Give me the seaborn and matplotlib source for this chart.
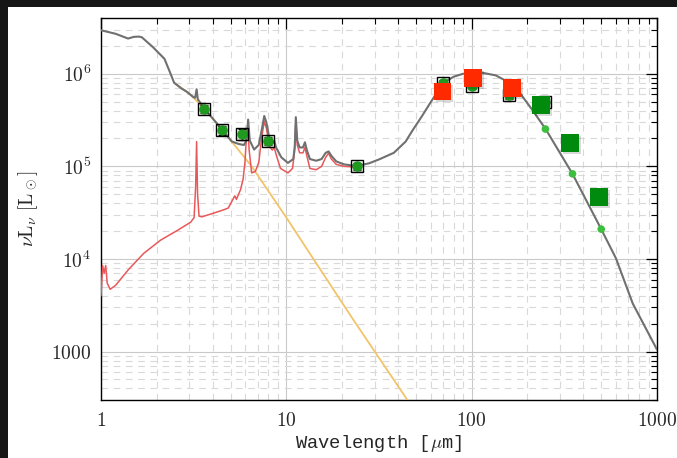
import matplotlib
matplotlib.use("Agg")
import matplotlib.pyplot as plt
import matplotlib.patheffects as pe
from matplotlib.patches import Rectangle
from matplotlib.ticker import LogLocator, NullFormatter
import pandas as pd
import seaborn as sns

# Total SED model (star + dust)
model_wave = [1.0, 1.2, 1.4, 1.5, 1.6, 1.66, 1.9, 2.2, 2.35, 2.48, 2.7, 2.9, 3.15, 3.22,
              3.28, 3.33, 3.5, 3.6, 4.0, 4.5, 5.07, 5.5, 5.9, 6.1, 6.22, 6.35, 6.7, 7.1,
              7.4, 7.6, 7.8, 8.1, 8.4, 8.6, 8.8, 9.4, 10.2, 10.9, 11.1, 11.25, 11.45, 11.8,
              12.3, 12.6, 12.9, 13.4, 14.5, 15.5, 16.3, 16.9, 17.5, 18.6, 20.5, 24.0, 28.0,
              32.0, 38.0, 44.0, 48.0, 54.0, 60.0, 70.0, 80.0, 90.0, 110.0, 135.0, 160.0,
              181.0, 210.0, 250.0, 350.0, 500.0, 600.0, 740.0, 1000.0]
model_lum = [2.95e6, 2.7e6, 2.4e6, 2.5e6, 2.52e6, 2.48e6, 1.95e6, 1.45e6, 1.05e6, 8.0e5,
             7.0e5, 6.4e5, 5.6e5, 5.5e5, 6.8e5, 5.3e5, 4.6e5, 4.25e5, 3.3e5, 2.5e5, 1.86e5,
             1.75e5, 1.7e5, 1.9e5, 3.2e5, 1.9e5, 1.52e5, 1.7e5, 2.6e5, 3.5e5, 3.0e5, 2.0e5,
             1.75e5, 1.9e5, 1.6e5, 1.25e5, 1.09e5, 1.2e5, 1.6e5, 3.4e5, 1.9e5, 1.6e5, 1.6e5,
             1.82e5, 1.5e5, 1.2e5, 1.15e5, 1.2e5, 1.4e5, 1.45e5, 1.3e5, 1.13e5, 1.05e5,
             1.01e5, 1.08e5, 1.2e5, 1.4e5, 1.85e5, 2.45e5, 3.5e5, 4.9e5, 7.9e5, 9.3e5,
             1.0e6, 1.04e6, 9.6e5, 8.0e5, 6.3e5, 4.2e5, 2.55e5, 8.3e4, 2.1e4, 1.02e4,
             3.3e3, 1.05e3]

# Dust / PAH emission component
dust_wave = [1.0, 1.02, 1.04, 1.06, 1.08, 1.12, 1.2, 1.4, 1.7, 2.1, 2.6, 3.05, 3.18, 3.24,
             3.28, 3.32, 3.38, 3.5, 4.0, 4.6, 4.86, 5.18, 5.27, 5.38, 5.66, 5.84, 5.98,
             6.1, 6.2, 6.3, 6.5, 6.8, 7.1, 7.35, 7.6, 7.8, 8.1, 8.4, 8.6, 8.85, 9.3, 10.2,
             10.8, 11.05, 11.25, 11.45, 11.8, 12.3, 12.6, 12.9, 13.4, 14.5, 15.5, 16.3,
             16.9, 17.5, 18.6, 20.5, 24.0]
dust_lum = [4.0e3, 8.5e3, 7.0e3, 8.5e3, 5.5e3, 4.7e3, 5.2e3, 7.6e3, 1.15e4, 1.6e4, 2.05e4,
            2.5e4, 2.8e4, 6.0e4, 1.85e5, 5.0e4, 2.9e4, 2.85e4, 3.1e4, 3.4e4, 3.55e4, 4.5e4,
            4.8e4, 4.4e4, 5.6e4, 7.2e4, 1.1e5, 2.2e5, 2.8e5, 1.5e5, 8.5e4, 8.8e4, 1.1e5,
            2.0e5, 3.05e5, 2.6e5, 1.65e5, 1.5e5, 1.6e5, 1.3e5, 9.5e4, 8.5e4, 9.5e4, 1.4e5,
            3.05e5, 1.7e5, 1.4e5, 1.4e5, 1.6e5, 1.3e5, 9.5e4, 9.2e4, 1.0e5, 1.25e5, 1.39e5,
            1.2e5, 1.05e5, 1.0e5, 9.8e4]

# Stellar photosphere
star_wave = [2.48, 3.0, 3.6, 4.5, 6.5, 10.0, 14.0, 23.0, 45.0]
star_lum = [8.0e5, 6.1e5, 4.2e5, 2.5e5, 1.0e5, 2.8e4, 1.0e4, 2.2e3, 3.0e2]

# Observed photometry (Spitzer + Herschel) with uncertainties
phot_wave = [3.6, 4.5, 5.8, 8.0, 24.0, 70.0, 100.0, 160.0, 250.0]
phot_lum = [4.2e5, 2.45e5, 2.23e5, 1.89e5, 1.0e5, 8.0e5, 7.3e5, 5.9e5, 5.0e5]
phot_err = [0.4e5, 0.25e5, 0.3e5, 0.2e5, 0.08e5, 0.6e5, 0.5e5, 0.5e5, 0.4e5]

# Far-infrared fluxes (PACS in red, SPIRE in green)
pacs_wave = [69.5, 101.6, 164.9]
pacs_lum = [6.4e5, 9.0e5, 7.0e5]
spire_wave = [237.0, 339.0, 486.0]
spire_lum = [4.6e5, 1.79e5, 4.66e4]

# Model predictions at SPIRE bands
synth_wave = [250.0, 350.0, 500.0]
synth_lum = [2.53e5, 8.3e4, 2.1e4]

sns.set_theme(style="white")
plt.rcParams["font.family"] = ["DejaVu Serif", "DejaVu Sans"]
plt.rcParams["mathtext.fontset"] = "cm"

fig = plt.figure(figsize=(6.77, 4.58), dpi=100, facecolor="white")
ax = fig.add_axes([101 / 677, 1 - 400 / 458, 556 / 677, 382 / 458])
ax.set_xscale("log")
ax.set_yscale("log")

df_model = pd.DataFrame({"wave": model_wave, "lum": model_lum})
df_dust = pd.DataFrame({"wave": dust_wave, "lum": dust_lum})
df_star = pd.DataFrame({"wave": star_wave, "lum": star_lum})

sns.lineplot(data=df_star, x="wave", y="lum", ax=ax, color="#f2c46a", lw=1.3,
             sort=False, estimator=None, zorder=3)
sns.lineplot(data=df_dust, x="wave", y="lum", ax=ax, color="#e8585a", lw=1.1,
             sort=False, estimator=None, zorder=3)
sns.lineplot(data=df_model, x="wave", y="lum", ax=ax, color="#707070", lw=1.5,
             sort=False, estimator=None, zorder=4)

# photometry: open squares with filled green dots and error bars
ax.errorbar(phot_wave, phot_lum, yerr=phot_err, fmt="none", ecolor="black",
            elinewidth=1.0, capsize=3, capthick=1.0, zorder=5)
ax.plot(phot_wave, phot_lum, ls="none", marker="o", ms=6.5, mfc="#1f9a1f",
        mec="#1f9a1f", zorder=5)
ax.plot(phot_wave, phot_lum, ls="none", marker="s", ms=8, mfc="none",
        mec="black", mew=1.0, zorder=6)

shadow = [pe.SimplePatchShadow(offset=(1.5, -1.5), shadow_rgbFace="black", alpha=0.15),
          pe.Normal()]
sns.scatterplot(x=synth_wave, y=synth_lum, ax=ax, color="#3cbf3c", s=30,
                edgecolor="none", zorder=7)
ax.plot(pacs_wave, pacs_lum, ls="none", marker="s", ms=12.5, mfc="#ff2a00",
        mec="none", zorder=8, path_effects=shadow)
ax.plot(spire_wave, spire_lum, ls="none", marker="s", ms=12.5, mfc="#008a0e",
        mec="none", zorder=8, path_effects=shadow)

ax.set_xlim(1, 1000)
ax.set_ylim(300, 4e6)

ax.set_xticks([1, 10, 100, 1000])
ax.set_xticklabels([r"$1$", r"$10$", r"$100$", r"$1000$"])
ax.set_yticks([1e3, 1e4, 1e5, 1e6])
ax.set_yticklabels([r"$1000$", r"$10^4$", r"$10^5$", r"$10^6$"])
ax.xaxis.set_minor_locator(LogLocator(base=10, subs=range(2, 10)))
ax.yaxis.set_minor_locator(LogLocator(base=10, subs=range(2, 10)))
ax.xaxis.set_minor_formatter(NullFormatter())
ax.yaxis.set_minor_formatter(NullFormatter())

ax.grid(which="major", color="#c9c9c9", lw=0.8, ls="-", zorder=0)
ax.grid(which="minor", color="#d9d9d9", lw=0.8, ls=(0, (6, 5)), zorder=0)
ax.set_axisbelow(True)

ax.tick_params(which="both", direction="in", top=True, right=True, color="black",
               labelsize=14)
ax.tick_params(which="major", length=8, width=0.9, pad=7)
ax.tick_params(which="minor", length=4, width=0.8)
ax.tick_params(axis="x", which="major", pad=9)
for s in ax.spines.values():
    s.set_color("black")
    s.set_linewidth(1.0)

ax.set_xlabel(r"Wavelength [$\mu$m]", fontsize=13.5, family="Liberation Mono",
              labelpad=2)
ax.set_ylabel(r"$\nu\mathrm{L}_\nu\ [\mathrm{L}_\odot]$", fontsize=14, labelpad=8)

# dark surround on the left and top edges
fig.patches.append(Rectangle((0, 0), 8 / 677, 1, transform=fig.transFigure,
                             facecolor="#161616", edgecolor="none", zorder=-1))
fig.patches.append(Rectangle((0, 1 - 7 / 458), 1, 7 / 458, transform=fig.transFigure,
                             facecolor="#161616", edgecolor="none", zorder=-1))

fig.savefig("out.png", dpi=100, facecolor="white")
